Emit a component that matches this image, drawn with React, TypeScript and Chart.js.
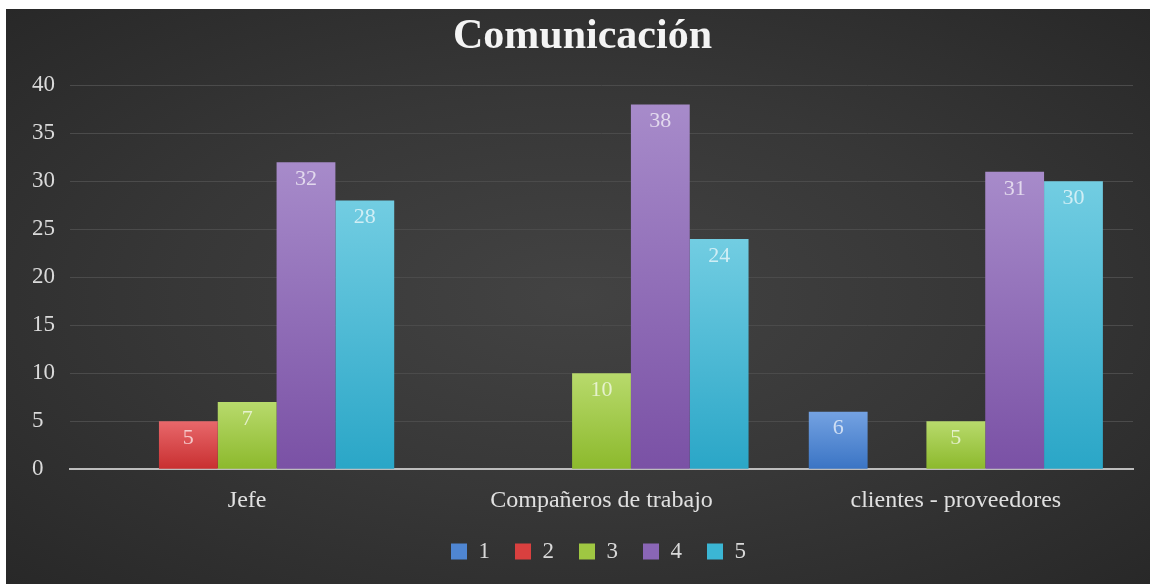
import React, { useEffect, useRef } from "react";
import { Chart, registerables } from "chart.js";

Chart.register(...registerables);

const categories = ["Jefe", "Compañeros de trabajo", "clientes - proveedores"];
const seriesNames = ["1", "2", "3", "4", "5"];
const serie1 = [null, null, 6];
const serie2 = [5, null, null];
const serie3 = [7, 10, 5];
const serie4 = [32, 38, 31];
const serie5 = [28, 24, 30];
const yTicks = [0, 5, 10, 15, 20, 25, 30, 35, 40];

const topColors = ["#74a2e2", "#e8686b", "#b8da6c", "#a78bca", "#72cde2"];
const bottomColors = ["#3a74c4", "#c82f30", "#8cb92c", "#7a51a5", "#2aa6c7"];
const midColors = ["#4f86d2", "#d9403f", "#9fc742", "#8a66b6", "#3bb6d4"];

const SERIF = "'Liberation Serif', 'Times New Roman', serif";

const labelPlugin = {
  id: "barLabels",
  afterDatasetsDraw(chart: any) {
    const ctx = chart.ctx;
    ctx.save();
    ctx.font = `22px ${SERIF}`;
    ctx.fillStyle = "rgba(255,255,255,0.68)";
    ctx.textAlign = "center";
    ctx.textBaseline = "middle";
    chart.data.datasets.forEach((ds: any, di: number) => {
      const meta = chart.getDatasetMeta(di);
      meta.data.forEach((el: any, i: number) => {
        const v = ds.data[i];
        if (v === null || v === undefined) return;
        ctx.fillText(String(v), el.x, el.y + 17);
      });
    });
    ctx.restore();
  },
};

const legendShift = {
  id: "legendShift",
  afterLayout(chart: any) {
    if (chart.legend) {
      chart.legend.left += 16;
      chart.legend.right += 16;
    }
  },
};

function gradientFor(idx: number) {
  return (context: any) => {
    const chart = context.chart;
    const y = chart.scales && chart.scales.y;
    const raw = context.raw;
    if (!y || raw === null || raw === undefined || !chart.chartArea) return midColors[idx];
    const top = y.getPixelForValue(raw);
    const bottom = y.getPixelForValue(0);
    if (!isFinite(top) || !isFinite(bottom) || top === bottom) return midColors[idx];
    const g = chart.ctx.createLinearGradient(0, top, 0, bottom);
    g.addColorStop(0, topColors[idx]);
    g.addColorStop(1, bottomColors[idx]);
    return g;
  };
}

export default function App() {
  const ref = useRef<HTMLCanvasElement | null>(null);
  useEffect(() => {
    if (!ref.current) return;
    const allSeries = [serie1, serie2, serie3, serie4, serie5];
    const chart = new Chart(ref.current, {
      type: "bar",
      data: {
        labels: categories,
        datasets: allSeries.map((d, i) => ({
          label: seriesNames[i],
          data: d,
          backgroundColor: gradientFor(i),
          borderWidth: 0,
          categoryPercentage: 0.83,
          barPercentage: 1.0,
        })),
      },
      options: {
        animation: false,
        responsive: false,
        layout: { padding: { left: 26, right: 17, top: 0, bottom: 11 } },
        plugins: {
          title: {
            display: true,
            text: "Comunicación",
            color: "#f4f4f4",
            font: { family: SERIF, size: 42, weight: "bold" },
            padding: { top: 3, bottom: 23 },
          },
          legend: {
            position: "bottom",
            labels: {
              color: "#d9d9d9",
              font: { family: SERIF, size: 23 },
              boxWidth: 16,
              boxHeight: 16,
              padding: 25,
              generateLabels: () =>
                seriesNames.map((n, i) => ({
                  text: n,
                  fillStyle: midColors[i],
                  strokeStyle: midColors[i],
                  lineWidth: 0,
                  hidden: false,
                  datasetIndex: i,
                  fontColor: "#d9d9d9",
                })),
            },
          },
          tooltip: { enabled: false },
        },
        scales: {
          x: {
            grid: { display: false, drawTicks: false },
            border: { display: true, color: "#bdbdbd", width: 2 },
            afterFit: (axis: any) => {
              axis.height = axis.height - 17;
            },
            ticks: {
              color: "#e0e0e0",
              font: { family: SERIF, size: 24 },
              padding: 17,
            },
          },
          y: {
            min: 0,
            max: 40,
            afterFit: (axis: any) => {
              axis.width = 38;
            },
            afterBuildTicks: (axis: any) => {
              axis.ticks = yTicks.map((v) => ({ value: v }));
            },
            grid: { color: "#4b4b4b", lineWidth: 1, drawTicks: false },
            border: { display: false },
            ticks: {
              color: "#dadada",
              font: { family: SERIF, size: 23 },
              crossAlign: "far",
              padding: 0,
            },
          },
        },
      },
      plugins: [labelPlugin, legendShift],
    } as any);
    return () => chart.destroy();
  }, []);

  return (
    <div
      style={{
        position: "fixed",
        left: 0,
        top: 0,
        width: 1150,
        height: 584,
        background: "#ffffff",
      }}
    >
      <div
        style={{
          position: "absolute",
          left: 6,
          top: 9,
          width: 1144,
          height: 575,
          background:
            "radial-gradient(ellipse at 50% 50%, #434343 0%, #373737 50%, #282828 100%)",
        }}
      >
        <canvas ref={ref} width={1144} height={575} style={{ display: "block" }} />
      </div>
    </div>
  );
}
